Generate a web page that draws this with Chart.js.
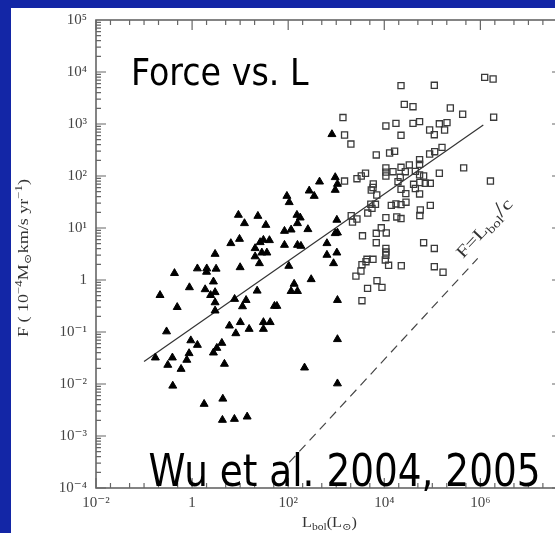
<!DOCTYPE html>
<html>
<head>
<meta charset="utf-8">
<script src="https://cdn.jsdelivr.net/npm/chart.js@4.4.0/dist/chart.umd.min.js"></script>
<style>
  html, body { margin: 0; padding: 0; background: #1326a6; overflow: hidden; width: 555px; height: 533px; }
  #panel { position: absolute; left: 11px; top: 8px; width: 544px; height: 525px; background: #fff; }
  #wrap { position: absolute; left: 0; top: 0; width: 600px; height: 533px; }
</style>
</head>
<body>
<div id="panel"></div>
<div id="wrap"><canvas id="chart" width="600" height="533"></canvas></div>
<script>
// low-mass outflows (filled triangles): L_bol in L_sun, force in 1e-4 Msun km/s/yr
let lowL = [813, 449, 953, 1060, 953, 274, 348, 94, 105, 9.2,
  12.3, 23.4, 34.3, 152, 178, 156, 1030, 83.7, 115, 257,
  953, 1060, 6.4, 9.7, 20.5, 26.1, 30.5, 40.7, 83.7, 156,
  184, 640, 3.01, 20.5, 28.3, 36, 640, 1030, 25.2, 10,
  879, 103, 1.29, 2.02, 2.0, 3.16, 2.78, 0.43, 0.88, 1.87,
  2.43, 3.01, 3.01, 3.01, 0.215, 0.49, 7.67, 13.3, 11.2, 22.6,
  133, 115, 156, 301, 51.8, 58.2, 1060, 5.98, 10.1, 8.13,
  15.4, 30.5, 42.2, 30.5, 0.294, 0.94, 1.29, 4.16, 3.27, 2.78,
  0.866, 0.776, 0.59, 4.71, 1060, 219, 1060, 4.36, 0.172, 0.389,
  0.312, 0.396, 1.78, 4.28, 7.6, 14.0];
let lowF = [634, 77.6, 94.4, 70.2, 53.8, 52.1, 41.2, 41.2, 31.2, 17.8,
  12.3, 17.0, 11.4, 17.8, 15.8, 12.3, 14.3, 8.75, 9.27, 9.44,
  7.91, 8.12, 5.08, 6.14, 4.07, 5.31, 5.88, 5.80, 4.71, 4.71,
  4.51, 5.08, 3.16, 2.83, 3.35, 3.35, 3.03, 3.35, 2.09, 1.75,
  2.09, 1.86, 1.66, 1.66, 1.43, 1.64, 0.93, 1.35, 0.72, 0.66,
  0.51, 0.58, 0.37, 0.257, 0.51, 0.30, 0.43, 0.41, 0.31, 0.62,
  0.84, 0.61, 0.61, 1.03, 0.316, 0.316, 0.41, 0.132, 0.154, 0.094,
  0.114, 0.154, 0.154, 0.114, 0.102, 0.0687, 0.0562, 0.0614, 0.0492, 0.040,
  0.0389, 0.029, 0.0194, 0.0243, 0.0724, 0.0206, 0.0102, 0.00519, 0.0321, 0.0321,
  0.0232, 0.00923, 0.00412, 0.00203, 0.00212, 0.00235];

// high-mass outflows (open squares)
let highL = [22300, 110000, 1230000, 1840000, 1380, 26100, 39600, 237000, 428000, 1890000,
  10800, 17500, 39600, 54300, 140000, 202000, 87900, 110000, 180000, 22300,
  1490, 2020, 6810, 12900, 16400, 87900, 112000, 159000, 449000, 1620000,
  54300, 54300, 33200, 22300, 27400, 10800, 10800, 10800, 15200, 21500,
  44300, 54300, 65900, 140000, 4070, 3320, 2700, 1490, 19300, 40700,
  54900, 71400, 90800, 5900, 5820, 5360, 6980, 22300, 28100, 44300,
  54300, 5240, 6560, 5550, 4530, 14000, 17500, 22300, 28300, 90800,
  56200, 54900, 2050, 2700, 2180, 10800, 18200, 22300, 8660, 6810,
  11000, 3520, 6810, 65900, 110000, 10800, 10800, 10800, 10500, 12300,
  5820, 4360, 4160, 3430, 22600, 110000, 167000, 3270, 2570, 7050,
  8950, 4490, 3430];
let highF = [5460, 5550, 7900, 7330, 1330, 2390, 2150, 2030, 1540, 1350,
  916, 1030, 1030, 1110, 1010, 1060, 767, 622, 767, 607,
  614, 412, 254, 277, 299, 265, 293, 356, 143, 80,
  206, 168, 163, 147, 121, 143, 119, 100, 121, 94.4,
  123, 105, 100, 113, 113, 100, 88.7, 80, 77.6, 69.2,
  75, 72.4, 72.4, 70.2, 60.1, 53.8, 43.1, 55.5, 45.7, 57.5,
  45.1, 28.7, 28.6, 23.9, 19.4, 27.3, 29.0, 28.1, 31.3, 27.3,
  22.2, 17.4, 17.2, 14.9, 13.0, 15.8, 16.3, 15.2, 10.1, 7.91,
  8.02, 7.08, 5.21, 5.21, 4.04, 4.04, 3.45, 2.99, 2.43, 1.92,
  2.50, 2.50, 2.25, 1.97, 1.88, 1.80, 1.41, 1.49, 1.19, 0.97,
  0.72, 0.69, 0.40];

// least squares fit and the F = L_bol/c limit
let fitL = [0.1, 1150000];
let fitF = [0.027, 955];
let limitL = [105, 880000];
let limitF = [0.00031, 2.6];

let xTickValues = [0.01, 1, 100, 10000, 1000000];
let xTickLabels = ['10\u207B\u00B2', '1', '10\u00B2', '10\u2074', '10\u2076'];
let yTickValues = [1e-4, 1e-3, 1e-2, 1e-1, 1, 10, 100, 1000, 10000, 100000];
let yTickLabels = ['10\u207B\u2074', '10\u207B\u00B3', '10\u207B\u00B2', '10\u207B\u00B9', '1',
  '10\u00B9', '10\u00B2', '10\u00B3', '10\u2074', '10\u2075'];

function pairs(xs, ys) {
  return xs.map((v, i) => ({x: v, y: ys[i]}));
}

const SERIF = "'Liberation Serif', 'DejaVu Serif', serif";

// draws a run of text pieces [text, size, dy] starting at x, optionally squeezed to a width
function drawRich(ctx, parts, x, y, width) {
  let total = 0;
  parts.forEach(p => {
    ctx.font = p[1] + 'px ' + SERIF;
    total += ctx.measureText(p[0]).width;
  });
  ctx.save();
  ctx.translate(x, y);
  if (width) ctx.scale(width / total, 1);
  let cx = 0;
  parts.forEach(p => {
    ctx.font = p[1] + 'px ' + SERIF;
    ctx.fillText(p[0], cx, p[2]);
    cx += ctx.measureText(p[0]).width;
  });
  ctx.restore();
}

const axisFrame = {
  id: 'axisFrame',
  beforeDatasetsDraw(chart) {
    const ctx = chart.ctx;
    const a = chart.chartArea;
    const x = chart.scales.x, y = chart.scales.y;
    ctx.save();
    ctx.strokeStyle = '#666';
    ctx.lineWidth = 1.6;
    ctx.strokeRect(a.left, a.top, a.right - a.left, a.bottom - a.top);
    ctx.lineWidth = 1.2;
    ctx.beginPath();
    for (let e = -2; e <= 7; e++) {
      [1, 2, 5].forEach(m => {
        const v = m * Math.pow(10, e);
        if (v > x.max) return;
        const px = x.getPixelForValue(v);
        const len = (m === 1 && e % 2 === 0) ? 10 : 5;
        ctx.moveTo(px, a.bottom); ctx.lineTo(px, a.bottom - len);
        ctx.moveTo(px, a.top); ctx.lineTo(px, a.top + len);
      });
    }
    for (let e = -4; e <= 4; e++) {
      for (let m = 1; m <= 9; m++) {
        const py = y.getPixelForValue(m * Math.pow(10, e));
        const len = m === 1 ? 10 : 5;
        ctx.moveTo(a.left, py); ctx.lineTo(a.left + len, py);
        ctx.moveTo(a.right, py); ctx.lineTo(a.right - len, py);
      }
    }
    ctx.stroke();
    ctx.restore();
  },
  afterDraw(chart) {
    const ctx = chart.ctx;
    ctx.save();
    ctx.fillStyle = '#333';
    ctx.textBaseline = 'alphabetic';

    // y axis title
    ctx.save();
    ctx.translate(28, 337);
    ctx.rotate(-Math.PI / 2);
    drawRich(ctx, [['F ( 10', 14, 0], ['\u22124', 10, -6], ['M', 14, 0], ['\u2299', 10, 3],
      ['km/s yr', 14, 0], ['\u22121', 10, -6], [')', 14, 0]], 0, 0, 158);
    ctx.restore();

    // x axis title
    drawRich(ctx, [['L', 14, 0], ['bol', 10, 3], ['(L', 14, 0], ['\u2299', 10, 3], [')', 14, 0]], 302, 527, 55);

    // label along the dashed line
    ctx.save();
    ctx.translate(463, 259);
    ctx.rotate(-47 * Math.PI / 180);
    drawRich(ctx, [['F=L', 17, 0], ['bol', 12, 4], ['/', 22, 0], ['c', 17, 0]], 0, 0, 74);
    ctx.restore();

    // slide captions
    ctx.fillStyle = '#000';
    ctx.font = "37px 'DejaVu Sans', sans-serif";
    ctx.save();
    ctx.translate(131, 85);
    ctx.scale(0.9, 1);
    ctx.fillText('Force vs. L', 0, 0);
    ctx.restore();
    ctx.font = "44px 'DejaVu Sans', sans-serif";
    ctx.save();
    ctx.translate(148.5, 486);
    ctx.scale(0.85, 1);
    ctx.fillText('Wu et al. 2004, 2005', 0, 0);
    ctx.restore();
    ctx.restore();
  }
};

const tickFont = {family: SERIF, size: 15};

new Chart(document.getElementById('chart'), {
  type: 'scatter',
  data: {
    datasets: [
      {
        data: pairs(lowL, lowF),
        pointStyle: 'triangle',
        pointRadius: 4.6,
        backgroundColor: '#000',
        borderColor: '#000',
        borderWidth: 1
      },
      {
        data: pairs(highL, highF),
        pointStyle: 'rect',
        pointRadius: 4.3,
        backgroundColor: 'rgba(0,0,0,0)',
        borderColor: '#3a3a3a',
        borderWidth: 1.3
      },
      {
        type: 'line',
        data: pairs(fitL, fitF),
        borderColor: '#333',
        borderWidth: 1.2,
        pointRadius: 0
      },
      {
        type: 'line',
        data: pairs(limitL, limitF),
        borderColor: '#444',
        borderWidth: 1.2,
        borderDash: [9, 6],
        pointRadius: 0
      }
    ]
  },
  options: {
    responsive: false,
    animation: false,
    layout: {padding: {top: 20, right: 38, left: 0, bottom: 0}},
    plugins: {legend: {display: false}, tooltip: {enabled: false}},
    scales: {
      x: {
        type: 'logarithmic',
        min: 0.01,
        max: 5e7,
        grid: {display: false, drawTicks: false},
        border: {display: false},
        afterBuildTicks: s => { s.ticks = xTickValues.map(v => ({value: v})); },
        afterFit: s => { s.height = 45; },
        ticks: {
          autoSkip: false, maxRotation: 0, padding: 6,
          color: '#444', font: tickFont,
          callback: (v, i) => xTickLabels[i]
        }
      },
      y: {
        type: 'logarithmic',
        min: 1e-4,
        max: 1e5,
        grid: {display: false, drawTicks: false},
        border: {display: false},
        afterBuildTicks: s => { s.ticks = yTickValues.map(v => ({value: v})); },
        afterFit: s => { s.width = 96; },
        ticks: {
          autoSkip: false, padding: 9,
          color: '#444', font: tickFont,
          callback: (v, i) => yTickLabels[i]
        }
      }
    }
  },
  plugins: [axisFrame]
});
</script>
</body>
</html>
